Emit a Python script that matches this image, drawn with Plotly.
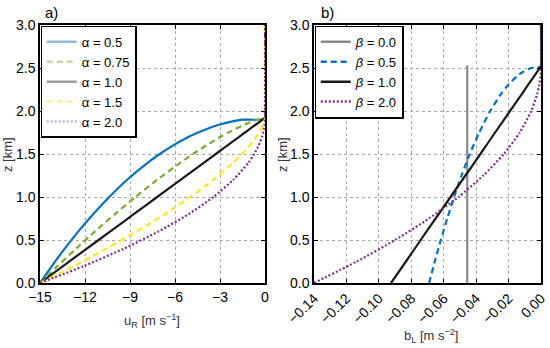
import plotly.graph_objects as go

# ---------------- data ----------------
# panel a: height z [km] and u_R [m s^-1] for different alpha
z_a = [0.0, 0.2, 0.4, 0.6, 0.8, 1.0, 1.2, 1.4, 1.5, 1.6, 1.7, 1.75, 1.8, 1.84, 1.88, 1.9, 1.92, 3.0]
u_a05 = [-15.00, -14.20, -13.35, -12.44, -11.46, -10.38, -9.19, -7.81, -7.02, -6.12, -5.08, -4.46, -3.75, -3.06, -2.17, -1.53, 0.0, 0.0]
u_a075 = [-15.00, -13.81, -12.59, -11.33, -10.01, -8.64, -7.19, -5.63, -4.80, -3.91, -2.96, -2.43, -1.88, -1.38, -0.82, -0.49, 0.0, 0.0]
u_a10 = [-15.00, -13.44, -11.88, -10.31, -8.75, -7.19, -5.63, -4.06, -3.28, -2.50, -1.72, -1.33, -0.94, -0.63, -0.31, -0.16, 0.0, 0.0]
u_a15 = [-15.00, -12.72, -10.57, -8.55, -6.68, -4.98, -3.44, -2.11, -1.53, -1.02, -0.58, -0.39, -0.23, -0.13, -0.05, -0.02, 0.0, 0.0]
u_a20 = [-15.00, -12.04, -9.40, -7.09, -5.10, -3.44, -2.11, -1.10, -0.72, -0.42, -0.20, -0.12, -0.06, -0.03, -0.01, 0.0, 0.0, 0.0]
alpha_labels = ["α = 0.5", "α = 0.75", "α = 1.0", "α = 1.5", "α = 2.0"]

# panel b: height z [km] and b_L [m s^-2] for different beta
z_b = [0.0, 0.25, 0.5, 0.75, 1.0, 1.25, 1.5, 1.75, 2.0, 2.2, 2.3, 2.4, 2.45, 2.5, 2.52, 3.0]
b_b00_z = [0.0, 2.53]
b_b00 = [-0.0455, -0.0455]
b_b05 = [-0.0690, -0.0655, -0.0618, -0.0578, -0.0536, -0.0490, -0.0439, -0.0381, -0.0313, -0.0246, -0.0204, -0.0151, -0.0115, -0.0061, 0.0, 0.0]
b_b10 = [-0.0925, -0.0833, -0.0742, -0.0650, -0.0558, -0.0466, -0.0374, -0.0283, -0.0191, -0.0117, -0.0081, -0.0044, -0.0026, -0.0007, 0.0, 0.0]
b_b20 = [-0.140, -0.1136, -0.0900, -0.0691, -0.0509, -0.0356, -0.0229, -0.0131, -0.0060, -0.0023, -0.0011, -0.0003, -0.0001, 0.0, 0.0, 0.0]
beta_labels = ["<i>β</i> = 0.0", "<i>β</i> = 0.5", "<i>β</i> = 1.0", "<i>β</i> = 2.0"]

xticks_a = [-15, -12, -9, -6, -3, 0]
xticks_b = [-0.14, -0.12, -0.10, -0.08, -0.06, -0.04, -0.02, 0.00]
yticks = [0.0, 0.5, 1.0, 1.5, 2.0, 2.5, 3.0]

# ---------------- styles ----------------
BLUE = "#0072BD"
GREEN = "#77AC30"
BLACK = "#1a1a1a"
YELLOW = "#FFE619"
PURPLE = "#7E2F8E"
GREY = "#8a8a8a"
FONT = "Liberation Sans, Arial, Helvetica, sans-serif"

fig = go.Figure()

# panel a curves
a_series = [
    (u_a05, BLUE, "solid", "rgba(0,114,189,0.45)"),
    (u_a075, GREEN, "6px,4px", "rgba(119,172,48,0.45)"),
    (u_a10, BLACK, "solid", "rgba(60,60,60,0.5)"),
    (u_a15, YELLOW, "6px,4px", "rgba(255,230,25,0.5)"),
    (u_a20, PURPLE, "2px,2px", "rgba(126,47,142,0.4)"),
]
for (vals, col, dash, _lc), lab in zip(a_series, alpha_labels):
    fig.add_trace(go.Scatter(x=vals, y=z_a, mode="lines", line=dict(color=col, width=2.2, dash=dash, shape="spline", smoothing=0.6),
                             xaxis="x", yaxis="y", showlegend=False, hoverinfo="skip"))
for (vals, col, dash, lc), lab in zip(a_series, alpha_labels):
    fig.add_trace(go.Scatter(x=[None], y=[None], mode="lines", name=lab, line=dict(color=lc, width=2.5, dash=dash),
                             xaxis="x", yaxis="y", legend="legend"))

# panel b curves
fig.add_trace(go.Scatter(x=b_b00, y=b_b00_z, mode="lines", line=dict(color=GREY, width=2.2),
                         xaxis="x2", yaxis="y2", showlegend=False, hoverinfo="skip"))
b_series = [
    (b_b05, BLUE, "6px,4px"),
    (b_b10, BLACK, "solid"),
    (b_b20, PURPLE, "2px,2px"),
]
for vals, col, dash in b_series:
    fig.add_trace(go.Scatter(x=vals, y=z_b, mode="lines", line=dict(color=col, width=2.2, dash=dash, shape="spline", smoothing=0.6),
                             xaxis="x2", yaxis="y2", showlegend=False, hoverinfo="skip"))
b_leg = [(GREY, "solid"), (BLUE, "6px,4px"), (BLACK, "solid"), (PURPLE, "2px,2px")]
for (col, dash), lab in zip(b_leg, beta_labels):
    fig.add_trace(go.Scatter(x=[None], y=[None], mode="lines", name=lab, line=dict(color=col, width=2.5, dash=dash),
                             xaxis="x2", yaxis="y2", legend="legend2"))

W, H = 550, 348
x1d = [40 / W, 265 / W]
x2d = [314 / W, 541 / W]
yd = [(H - 283) / H, (H - 25) / H]

axis_common = dict(showline=True, linecolor="black", linewidth=1.5, mirror="ticks",
                   ticks="inside", ticklen=4, tickcolor="black", tickwidth=1,
                   showgrid=True, gridcolor="#a8a8a8", griddash="3px,3px", gridwidth=1,
                   zeroline=False, automargin=False,
                   tickfont=dict(family=FONT, size=14, color="black"))

legend_common = dict(bgcolor="white", bordercolor="black", borderwidth=1.2,
                     font=dict(family=FONT, size=13, color="black"), tracegroupgap=0, itemwidth=30)

fig.update_layout(
    width=W, height=H, autosize=False,
    margin=dict(l=0, r=0, t=0, b=0, autoexpand=False),
    paper_bgcolor="white", plot_bgcolor="white",
    font=dict(family=FONT, size=14, color="black"),
    xaxis=dict(domain=x1d, range=[-15, 0], tickvals=xticks_a, ticktext=["−15", "−12", "−9", "−6", "−3", "0"],
               anchor="y", **axis_common),
    yaxis=dict(domain=yd, range=[0, 3], tickvals=yticks, tickformat=".1f", anchor="x", **axis_common),
    xaxis2=dict(domain=x2d, range=[-0.14, 0], tickvals=xticks_b, tickformat=".2f", tickangle=-45,
                anchor="y2", **axis_common),
    yaxis2=dict(domain=yd, range=[0, 3], tickvals=yticks, tickformat=".1f", anchor="x2", **axis_common),
    legend=dict(x=x1d[0] + 0.001, y=yd[1] - 0.002, xanchor="left", yanchor="top", **legend_common),
    legend2=dict(x=x2d[0] + 0.001, y=yd[1] - 0.002, xanchor="left", yanchor="top", **legend_common),
    annotations=[
        dict(text="a)", x=43 / W, y=1 - 13 / H, xref="paper", yref="paper", xanchor="left", yanchor="middle",
             showarrow=False, font=dict(family=FONT, size=15, color="black")),
        dict(text="b)", x=319 / W, y=1 - 13 / H, xref="paper", yref="paper", xanchor="left", yanchor="middle",
             showarrow=False, font=dict(family=FONT, size=15, color="black")),
        dict(text="z [km]", x=7 / W, y=1 - 155 / H, xref="paper", yref="paper", textangle=-90,
             xanchor="center", yanchor="middle",
             showarrow=False, font=dict(family=FONT, size=13, color="#333")),
        dict(text="z [km]", x=282 / W, y=1 - 155 / H, xref="paper", yref="paper", textangle=-90,
             xanchor="center", yanchor="middle",
             showarrow=False, font=dict(family=FONT, size=13, color="#333")),
        dict(text="u<sub>R</sub> [m s<sup>−1</sup>]", x=152 / W, y=1 - 321 / H, xref="paper", yref="paper",
             xanchor="center", yanchor="middle",
             showarrow=False, font=dict(family=FONT, size=13, color="#333")),
        dict(text="b<sub>L</sub> [m s<sup>−2</sup>]", x=431 / W, y=1 - 336 / H, xref="paper", yref="paper",
             xanchor="center", yanchor="middle",
             showarrow=False, font=dict(family=FONT, size=13, color="#333")),
    ],
)

fig.write_html("out.html", config={"displayModeBar": False},
               post_script="document.body.style.margin='0';document.body.style.overflow='hidden';")
